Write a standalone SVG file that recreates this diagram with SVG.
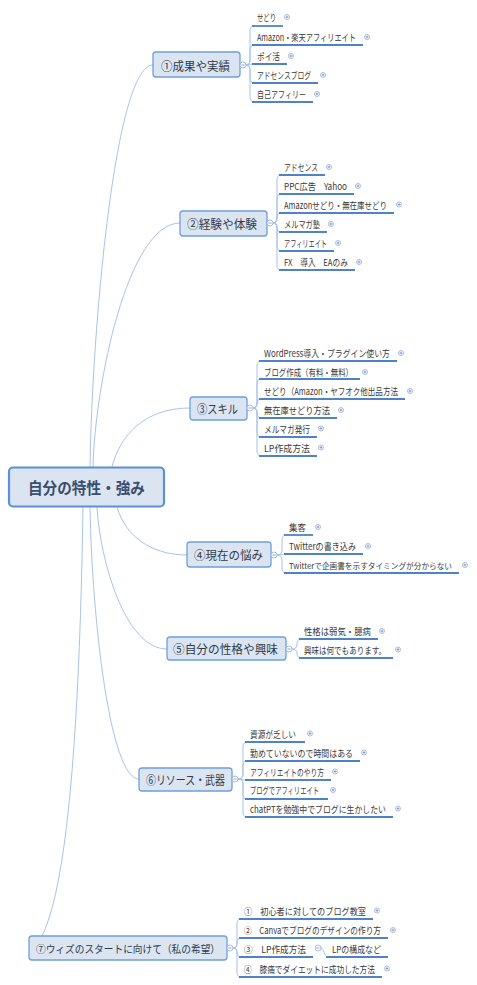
<svg xmlns="http://www.w3.org/2000/svg" width="477" height="985" viewBox="0 0 477 985">
<style>
.bg{fill:#ffffff}
.conn{fill:none;stroke:#a8c3ea;stroke-width:1}
.ul{fill:none;stroke:#4f83c9;stroke-width:1.8}
.root-box{fill:#dbe5f1;stroke:#5b8fd6;stroke-width:2.2}
.br-box{fill:#dbe5f1;stroke:#6f9fdc;stroke-width:1.3}
.root-t{font-family:"Noto Sans CJK JP","Noto Sans",sans-serif;font-size:15.5px;font-weight:bold;fill:#3b4d6e;dominant-baseline:central}
.br-t{font-family:"Noto Sans CJK JP","Noto Sans",sans-serif;font-size:12px;fill:#2f3a4a;dominant-baseline:central}
.br-s{font-size:10.5px}
.ch-t{font-family:"Noto Sans CJK JP","Noto Sans",sans-serif;font-size:9.5px;fill:#3a3a3a;dominant-baseline:central}
.ch-s{font-size:8px}
.ic{fill:#ffffff;stroke:#93acd3;stroke-width:0.8}
.icl{stroke:#7e9acb;stroke-width:0.9}
</style>
<defs>
<g id="plus"><circle class="ic" cx="0" cy="0" r="2.5"/><path class="icl" d="M-1.4,0H1.4M0,-1.4V1.4"/></g>
<g id="minus"><circle class="ic" cx="0" cy="0" r="3"/><path class="icl" d="M-1.6,0H1.6"/></g>
</defs>
<rect class="bg" x="0" y="0" width="477" height="985"/>

<g id="connectors">
<path class="conn" d="M90,467 C92,330 115,65 153,65"/>
<path class="conn" d="M93,467 C95,384 128,223 180,223"/>
<path class="conn" d="M112,467 C120,435 145,408 190,408"/>
<path class="conn" d="M117,507 C125,535 150,555 187,555"/>
<path class="conn" d="M97,507 C100,560 125,649 167,649"/>
<path class="conn" d="M90,507 C92,620 110,779 139,779"/>
<path class="conn" d="M83,507 C80,700 70,880 42,936"/>

<path class="conn" d="M246,65 Q250,65 250,60 V31 Q250,26 254,26"/>
<path class="conn" d="M246,65 Q250,65 250,60 V50 Q250,45 254,45"/>
<path class="conn" d="M246,65 C250,65 250,64 254,64"/>
<path class="conn" d="M246,65 Q250,65 250,70 V78 Q250,83 254,83"/>
<path class="conn" d="M246,65 Q250,65 250,70 V97 Q250,102 254,102"/>

<path class="conn" d="M273,223 Q277,223 277,218 V180 Q277,175 281,175"/>
<path class="conn" d="M273,223 Q277,223 277,218 V199 Q277,194 281,194"/>
<path class="conn" d="M273,223 Q277,223 277,218 Q277,213 281,213"/>
<path class="conn" d="M273,223 Q277,223 277,228 Q277,232 281,232"/>
<path class="conn" d="M273,223 Q277,223 277,228 V246 Q277,251 281,251"/>
<path class="conn" d="M273,223 Q277,223 277,228 V265 Q277,270 281,270"/>

<path class="conn" d="M253,408 Q257,408 257,403 V366 Q257,361 261,361"/>
<path class="conn" d="M253,408 Q257,408 257,403 V384 Q257,379 261,379"/>
<path class="conn" d="M253,408 Q257,408 257,404 Q257,399 261,399"/>
<path class="conn" d="M253,408 Q257,408 257,413 Q257,418 261,418"/>
<path class="conn" d="M253,408 Q257,408 257,413 V432 Q257,437 261,437"/>
<path class="conn" d="M253,408 Q257,408 257,413 V451 Q257,456 261,456"/>

<path class="conn" d="M277,555 Q282,555 282,550 V540 Q282,535 286,535"/>
<path class="conn" d="M277,555 C282,555 282,554 286,554"/>
<path class="conn" d="M277,555 Q282,555 282,560 V568 Q282,573 286,573"/>

<path class="conn" d="M292,649 Q297,649 297,644 Q297,639 301,639"/>
<path class="conn" d="M292,649 Q297,649 297,653 Q297,658 301,658"/>

<path class="conn" d="M238,779 Q243,779 243,774 V747 Q243,742 247,742"/>
<path class="conn" d="M238,779 Q243,779 243,774 V766 Q243,761 247,761"/>
<path class="conn" d="M238,779 C243,779 243,780 247,780"/>
<path class="conn" d="M238,779 Q243,779 243,784 V794 Q243,799 247,799"/>
<path class="conn" d="M238,779 Q243,779 243,784 V812 Q243,817 247,817"/>

<path class="conn" d="M233,948 Q237,948 237,943 V924 Q237,919 241,919"/>
<path class="conn" d="M233,948 Q237,948 237,943 Q237,938 241,938"/>
<path class="conn" d="M233,948 Q237,948 237,952 Q237,957 241,957"/>
<path class="conn" d="M233,948 Q237,948 237,953 V972 Q237,977 241,977"/>
<path class="conn" d="M321,948 C324,948 324,957 328,957"/>
</g>

<g id="root">
<rect class="root-box" x="9" y="467.5" width="155" height="39" rx="4"/>
<text class="root-t" x="86.5" y="487" text-anchor="middle" textLength="117" lengthAdjust="spacingAndGlyphs">自分の特性・強み</text>
</g>

<g id="b1">
<rect class="br-box" x="153" y="52" width="87" height="25" rx="3"/>
<text class="br-t" x="195.5" y="65" text-anchor="middle" textLength="69" lengthAdjust="spacingAndGlyphs">①成果や実績</text>
<use href="#minus" x="243" y="65"/>
</g>
<g id="b1-1"><path class="ul" d="M252,26H283"/><text class="ch-t" x="257" y="17" textLength="19" lengthAdjust="spacingAndGlyphs">せどり</text><use href="#plus" x="287" y="17"/></g>
<g id="b1-2"><path class="ul" d="M252,45H363"/><text class="ch-t" x="257" y="37" textLength="99" lengthAdjust="spacingAndGlyphs">Amazon・楽天アフィリエイト</text><use href="#plus" x="367" y="37"/></g>
<g id="b1-3"><path class="ul" d="M252,64H287"/><text class="ch-t" x="257" y="56" textLength="23" lengthAdjust="spacingAndGlyphs">ポイ活</text><use href="#plus" x="291" y="56"/></g>
<g id="b1-4"><path class="ul" d="M252,83H318"/><text class="ch-t" x="257" y="75" textLength="54" lengthAdjust="spacingAndGlyphs">アドセンスブログ</text><use href="#plus" x="323" y="75"/></g>
<g id="b1-5"><path class="ul" d="M252,102H313"/><text class="ch-t" x="257" y="94" textLength="49" lengthAdjust="spacingAndGlyphs">自己アフィリー</text><use href="#plus" x="317" y="94"/></g>

<g id="b2">
<rect class="br-box" x="180" y="211" width="87" height="25" rx="3"/>
<text class="br-t" x="222" y="223.5" text-anchor="middle" textLength="70" lengthAdjust="spacingAndGlyphs">②経験や体験</text>
<use href="#minus" x="270" y="223"/>
</g>
<g id="b2-1"><path class="ul" d="M279,175H325"/><text class="ch-t" x="284" y="167" textLength="34" lengthAdjust="spacingAndGlyphs">アドセンス</text><use href="#plus" x="329" y="167"/></g>
<g id="b2-2"><path class="ul" d="M279,194H354"/><text class="ch-t" x="284" y="186" textLength="63" lengthAdjust="spacingAndGlyphs">PPC広告　Yahoo</text><use href="#plus" x="358" y="186"/></g>
<g id="b2-3"><path class="ul" d="M279,213H394"/><text class="ch-t" x="284" y="204.5" textLength="103" lengthAdjust="spacingAndGlyphs">Amazonせどり・無在庫せどり</text><use href="#plus" x="399" y="204.5"/></g>
<g id="b2-4"><path class="ul" d="M279,232H327"/><text class="ch-t" x="284" y="224" textLength="36" lengthAdjust="spacingAndGlyphs">メルマガ塾</text><use href="#plus" x="331" y="224"/></g>
<g id="b2-5"><path class="ul" d="M279,251H334"/><text class="ch-t" x="284" y="243" textLength="43" lengthAdjust="spacingAndGlyphs">アフィリエイト</text><use href="#plus" x="338" y="243"/></g>
<g id="b2-6"><path class="ul" d="M279,270H355"/><text class="ch-t" x="284" y="262" textLength="64" lengthAdjust="spacingAndGlyphs">FX　導入　EAのみ</text><use href="#plus" x="359" y="262"/></g>

<g id="b3">
<rect class="br-box" x="190" y="397" width="57" height="23" rx="3"/>
<text class="br-t" x="217.5" y="408.5" text-anchor="middle" textLength="41" lengthAdjust="spacingAndGlyphs">③スキル</text>
<use href="#minus" x="250" y="408"/>
</g>
<g id="b3-1"><path class="ul" d="M259,361H397"/><text class="ch-t" x="264" y="353" textLength="126" lengthAdjust="spacingAndGlyphs">WordPress導入・プラグイン使い方</text><use href="#plus" x="401" y="353"/></g>
<g id="b3-2"><path class="ul" d="M259,379H360"/><text class="ch-t" x="264" y="372" textLength="89" lengthAdjust="spacingAndGlyphs">ブログ作成（有料・無料）</text><use href="#plus" x="365" y="372"/></g>
<g id="b3-3"><path class="ul" d="M259,399H405"/><text class="ch-t" x="264" y="391" textLength="134" lengthAdjust="spacingAndGlyphs">せどり（Amazon・ヤフオク他出品方法</text><use href="#plus" x="410" y="391"/></g>
<g id="b3-4"><path class="ul" d="M259,418H337"/><text class="ch-t" x="264" y="410" textLength="66" lengthAdjust="spacingAndGlyphs">無在庫せどり方法</text><use href="#plus" x="341" y="410"/></g>
<g id="b3-5"><path class="ul" d="M259,437H317"/><text class="ch-t" x="264" y="428.5" textLength="46" lengthAdjust="spacingAndGlyphs">メルマガ発行</text><use href="#plus" x="321" y="428.5"/></g>
<g id="b3-6"><path class="ul" d="M259,456H317"/><text class="ch-t" x="264" y="447.5" textLength="46" lengthAdjust="spacingAndGlyphs">LP作成方法</text><use href="#plus" x="321" y="447.5"/></g>

<g id="b4">
<rect class="br-box" x="187" y="542" width="84" height="25" rx="3"/>
<text class="br-t" x="228.5" y="554.5" text-anchor="middle" textLength="69" lengthAdjust="spacingAndGlyphs">④現在の悩み</text>
<use href="#minus" x="274" y="555"/>
</g>
<g id="b4-1"><path class="ul" d="M284,535H313"/><text class="ch-t" x="289" y="527" textLength="17" lengthAdjust="spacingAndGlyphs">集客</text><use href="#plus" x="318" y="527"/></g>
<g id="b4-2"><path class="ul" d="M284,554H363"/><text class="ch-t" x="289" y="546" textLength="67" lengthAdjust="spacingAndGlyphs">Twitterの書き込み</text><use href="#plus" x="368" y="546"/></g>
<g id="b4-3"><path class="ul" d="M284,573H459"/><text class="ch-t ch-s" x="289" y="565" textLength="163" lengthAdjust="spacingAndGlyphs">Twitterで企画書を示すタイミングが分からない</text><use href="#plus" x="465" y="565"/></g>

<g id="b5">
<rect class="br-box" x="167" y="637" width="119" height="23" rx="3"/>
<text class="br-t" x="225.5" y="648.5" text-anchor="middle" textLength="105" lengthAdjust="spacingAndGlyphs">⑤自分の性格や興味</text>
<use href="#minus" x="289" y="649"/>
</g>
<g id="b5-1"><path class="ul" d="M299,639H378"/><text class="ch-t" x="304" y="631" textLength="67" lengthAdjust="spacingAndGlyphs">性格は弱気・臆病</text><use href="#plus" x="382" y="631"/></g>
<g id="b5-2"><path class="ul" d="M299,658H393"/><text class="ch-t" x="304" y="649.5" textLength="82" lengthAdjust="spacingAndGlyphs">興味は何でもあります。</text><use href="#plus" x="398" y="649.5"/></g>

<g id="b6">
<rect class="br-box" x="139" y="768" width="93" height="23" rx="3"/>
<text class="br-t" x="185.5" y="779.5" text-anchor="middle" textLength="79" lengthAdjust="spacingAndGlyphs">⑥リソース・武器</text>
<use href="#minus" x="235" y="779"/>
</g>
<g id="b6-1"><path class="ul" d="M245,742H305"/><text class="ch-t" x="250" y="733.5" textLength="46" lengthAdjust="spacingAndGlyphs">資源が乏しい</text><use href="#plus" x="310" y="733.5"/></g>
<g id="b6-2"><path class="ul" d="M245,761H360"/><text class="ch-t" x="250" y="752.5" textLength="103" lengthAdjust="spacingAndGlyphs">勤めていないので時間はある</text><use href="#plus" x="364" y="752.5"/></g>
<g id="b6-3"><path class="ul" d="M245,780H331"/><text class="ch-t" x="250" y="771.5" textLength="74" lengthAdjust="spacingAndGlyphs">アフィリエイトのやり方</text><use href="#plus" x="335" y="771.5"/></g>
<g id="b6-4"><path class="ul" d="M245,799H328"/><text class="ch-t" x="250" y="790" textLength="69" lengthAdjust="spacingAndGlyphs">ブログでアフィリエイト</text><use href="#plus" x="333" y="790"/></g>
<g id="b6-5"><path class="ul" d="M245,817H393"/><text class="ch-t" x="250" y="808.5" textLength="136" lengthAdjust="spacingAndGlyphs">chatPTを勉強中でブログに生かしたい</text><use href="#plus" x="398" y="808.5"/></g>

<g id="b7">
<rect class="br-box" x="29" y="936" width="198" height="24" rx="3"/>
<text class="br-t br-s" x="128" y="948" text-anchor="middle" textLength="184" lengthAdjust="spacingAndGlyphs">⑦ウィズのスタートに向けて（私の希望）</text>
<use href="#minus" x="230" y="948"/>
</g>
<g id="b7-1"><path class="ul" d="M239,919H373"/><text class="ch-t" x="244" y="910.5" textLength="122" lengthAdjust="spacingAndGlyphs">①　初心者に対してのブログ教室</text><use href="#plus" x="377" y="910.5"/></g>
<g id="b7-2"><path class="ul" d="M239,938H388"/><text class="ch-t" x="244" y="930" textLength="137" lengthAdjust="spacingAndGlyphs">②　Canvaでブログのデザインの作り方</text><use href="#plus" x="393" y="930"/></g>
<g id="b7-3"><path class="ul" d="M239,957H313"/><text class="ch-t" x="244" y="948.5" textLength="62" lengthAdjust="spacingAndGlyphs">③　LP作成方法</text><use href="#minus" x="318" y="948"/></g>
<g id="b7-3-1"><path class="ul" d="M326,957H388"/><text class="ch-t" x="332" y="948.5" textLength="49" lengthAdjust="spacingAndGlyphs">LPの構成など</text></g>
<g id="b7-4"><path class="ul" d="M239,977H382"/><text class="ch-t" x="244" y="968.5" textLength="131" lengthAdjust="spacingAndGlyphs">④　膝痛でダイエットに成功した方法</text><use href="#plus" x="387" y="968.5"/></g>
</svg>
